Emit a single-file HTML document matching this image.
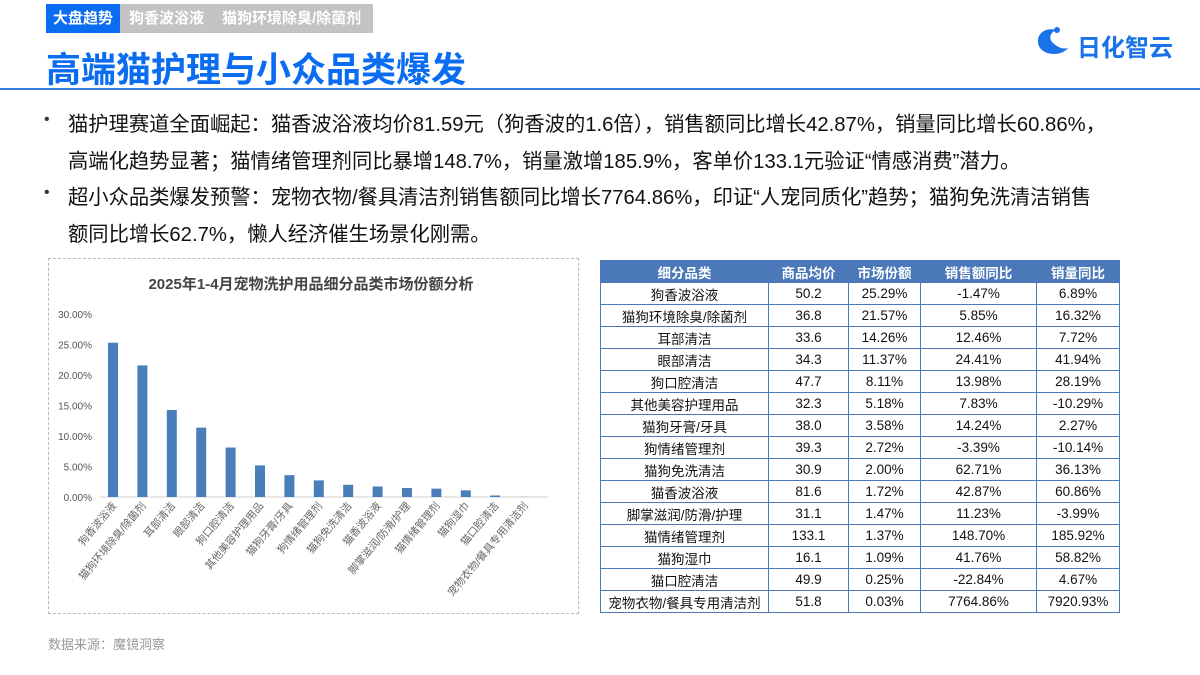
<!DOCTYPE html>
<html><head><meta charset="utf-8"><style>
body{margin:0;width:1200px;height:675px;background:#fff;position:relative;overflow:hidden;font-family:"Liberation Sans","Noto Sans CJK SC",sans-serif;}
.abs{position:absolute;}
.tab{position:absolute;top:4px;height:29px;line-height:29px;font-size:15px;font-weight:bold;color:#fff;white-space:nowrap;}
.bul{position:absolute;left:68px;font-size:20.3px;color:#111;white-space:nowrap;}
.dot{position:absolute;left:44px;font-size:16px;color:#333;}
table{border-collapse:collapse;font-size:13.5px;color:#111;}
td,th{border:1px solid #4a78b8;height:21px;padding:0;text-align:center;white-space:nowrap;}
th{background:#4a78b8;color:#fff;font-weight:bold;}
</style></head><body>
<div class="tab" style="left:46px;width:74px;background:#0a6cf0;text-align:center">大盘趋势</div>
<div class="tab" style="left:120px;width:253px;background:#c3c3c3"><span style="margin-left:9px">狗香波浴液</span><span style="margin-left:18px">猫狗环境除臭/除菌剂</span></div>
<div class="abs" style="left:46px;top:42px;font-size:35px;font-weight:bold;color:#0a6cf0">高端猫护理与小众品类爆发</div>
<div class="abs" style="left:0;top:88px;width:1200px;height:2px;background:#2f7de0"></div>
<div class="abs" style="left:1032px;top:22px;width:40px;height:40px">
<svg width="40" height="40"><path d="M24 8 C10 4 2 16 8 26 C14 34 30 34 36 26 C30 28 24 24 20 20 C16 14 20 10 24 8Z" fill="#1a73e8"/><circle cx="25" cy="8" r="3" fill="#1a73e8"/></svg></div>
<div class="abs" style="left:1077px;top:28px;font-size:24px;font-weight:bold;color:#1a73e8">日化智云</div>
<div class="dot" style="top:111px">•</div>
<div class="bul" style="top:107px">猫护理赛道全面崛起：猫香波浴液均价81.59元（狗香波的1.6倍），销售额同比增长42.87%，销量同比增长60.86%，</div>
<div class="bul" style="top:144px">高端化趋势显著；猫情绪管理剂同比暴增148.7%，销量激增185.9%，客单价133.1元验证“情感消费”潜力。</div>
<div class="dot" style="top:184px">•</div>
<div class="bul" style="top:180px">超小众品类爆发预警：宠物衣物/餐具清洁剂销售额同比增长7764.86%，印证“人宠同质化”趋势；猫狗免洗清洁销售</div>
<div class="bul" style="top:217px">额同比增长62.7%，懒人经济催生场景化刚需。</div>
<div class="abs" style="left:48px;top:258px;width:531px;height:356px;border:1px dashed #bbb;box-sizing:border-box"></div>
<svg class="abs" style="left:0;top:0" width="600" height="620" id="chart">
<text x="311" y="289" text-anchor="middle" font-size="15" font-weight="bold" fill="#444">2025年1-4月宠物洗护用品细分品类市场份额分析</text>
</svg>
<div class="abs" style="left:600px;top:260px">
<table>
<colgroup><col style="width:168px"><col style="width:80px"><col style="width:72px"><col style="width:116px"><col style="width:83px"></colgroup>
<tr><th>细分品类</th><th>商品均价</th><th>市场份额</th><th>销售额同比</th><th>销量同比</th></tr>
<tbody id="tb"></tbody></table></div>
<div class="abs" style="left:48px;top:634px;font-size:13px;color:#999">数据来源：魔镜洞察</div>
<script>
const categories=["狗香波浴液","猫狗环境除臭/除菌剂","耳部清洁","眼部清洁","狗口腔清洁","其他美容护理用品","猫狗牙膏/牙具","狗情绪管理剂","猫狗免洗清洁","猫香波浴液","脚掌滋润/防滑/护理","猫情绪管理剂","猫狗湿巾","猫口腔清洁","宠物衣物/餐具专用清洁剂"];
const shares=[25.29,21.57,14.26,11.37,8.11,5.18,3.58,2.72,2.00,1.72,1.47,1.37,1.09,0.25,0.03];
const prices=["50.2","36.8","33.6","34.3","47.7","32.3","38.0","39.3","30.9","81.6","31.1","133.1","16.1","49.9","51.8"];
const salesYoY=["-1.47%","5.85%","12.46%","24.41%","13.98%","7.83%","14.24%","-3.39%","62.71%","42.87%","11.23%","148.70%","41.76%","-22.84%","7764.86%"];
const volYoY=["6.89%","16.32%","7.72%","41.94%","28.19%","-10.29%","2.27%","-10.14%","36.13%","60.86%","-3.99%","185.92%","58.82%","4.67%","7920.93%"];
const yTicks=[0,5,10,15,20,25,30];
const svg=document.getElementById('chart');const NS='http://www.w3.org/2000/svg';
const y=v=>497-v*6.1;const x=i=>113+i*29.4;
function mk(t,a){const e=document.createElementNS(NS,t);for(const k in a)e.setAttribute(k,a[k]);svg.appendChild(e);return e;}
yTicks.forEach(t=>{const e=mk('text',{x:92,y:y(t)+4,'text-anchor':'end','font-size':10,fill:'#555'});e.textContent=t.toFixed(2)+'%';

});
const ax=mk('line',{x1:100,x2:548,y1:497,y2:497,stroke:'#d0d0d0','stroke-width':1});


shares.forEach((v,i)=>{const r=mk('rect',{x:x(i)-5,y:y(v),width:10,height:497-y(v),fill:'#4a7ebb'});


const t=mk('text',{x:x(i)+4,y:506,'text-anchor':'end','font-size':10.5,fill:'#666',transform:`rotate(-50 ${x(i)+4} 506)`});t.textContent=categories[i];

});
const tb=document.getElementById('tb');
categories.forEach((c,i)=>{const tr=document.createElement('tr');


[c,prices[i],shares[i].toFixed(2)+'%',salesYoY[i],volYoY[i]].forEach(v=>{const td=document.createElement('td');td.textContent=v;tr.appendChild(td);});tb.appendChild(tr);});
</script>
</body></html>
